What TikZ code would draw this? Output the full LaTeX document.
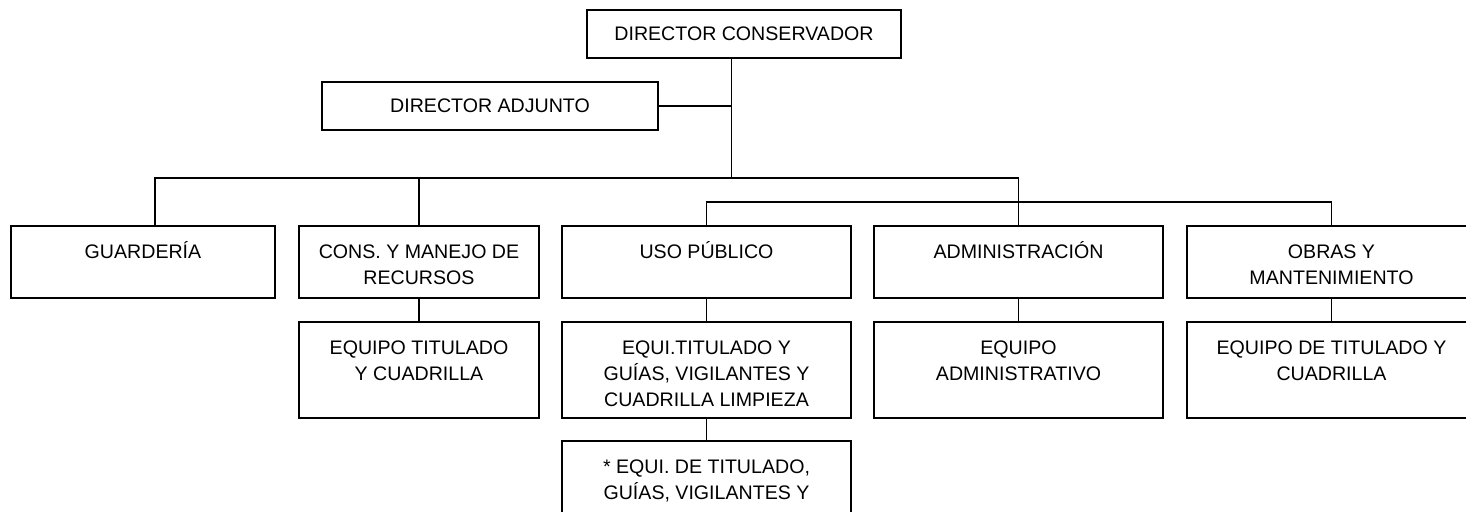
\documentclass[tikz,border=0pt]{standalone}
\usepackage{fontspec}
\setmainfont{Liberation Sans}
\tikzset{
  boxline/.style={draw, line width=0.9pt, inner sep=0pt, outer sep=0pt,
    font=\fontsize{9.8pt}{13pt}\selectfont},
  link/.style={line width=0.65pt},
}
% name, cx, cy, w(px), h(px), text
\newcommand\orgbox[6]{%
  \node[boxline, minimum width=#4*0.5pt, minimum height=#5*0.5pt] (#1) at (#2,#3)
   {\parbox[c][\dimexpr #5pt/2\relax][t]{\dimexpr #4pt/2\relax}{\centering\rule{0pt}{16.2pt}#6\par}};}
\begin{document}
\begin{tikzpicture}[x=0.5pt, y=-0.5pt]
\clip (0,0) rectangle (1466,511);
\fill[white] (0,0) rectangle (1466,511);

\node[boxline, minimum width=157pt, minimum height=24pt] (DC) at (744,34) {DIRECTOR CONSERVADOR};
\node[boxline, minimum width=168pt, minimum height=24pt] (DA) at (490,106) {DIRECTOR ADJUNTO};

\orgbox{GUARD}{143}{262}{264}{72}{GUARDERÍA}
\orgbox{CONS}{419}{262}{240}{72}{CONS. Y MANEJO DE\\RECURSOS}
\orgbox{USO}{706.5}{262}{289}{72}{USO PÚBLICO}
\orgbox{ADMIN}{1018.5}{262}{289}{72}{ADMINISTRACIÓN}
\orgbox{OBRAS}{1331.5}{262}{289}{72}{OBRAS Y\\MANTENIMIENTO}

\orgbox{CONS2}{419}{370}{240}{96}{EQUIPO TITULADO\\Y CUADRILLA}
\orgbox{USO2}{706.5}{370}{289}{96}{EQUI.TITULADO Y\\GUÍAS, VIGILANTES Y\\CUADRILLA LIMPIEZA}
\orgbox{ADMIN2}{1018.5}{370}{289}{96}{EQUIPO\\ADMINISTRATIVO}
\orgbox{OBRAS2}{1331.5}{370}{289}{96}{EQUIPO DE TITULADO Y\\CUADRILLA}

\orgbox{USO3}{706.5}{489}{289}{96}{* EQUI. DE TITULADO,\\GUÍAS, VIGILANTES Y}

\coordinate (tr) at (731.5,178);
\coordinate (gl) at (155,178);
\coordinate (l2) at (0,202);

\draw[link] (tr |- DC.south) -- (tr);
\draw[link] (DA.east) -- (DA.east -| tr);
\draw[link] (gl |- GUARD.north) -- (gl) -- (ADMIN.north |- gl) -- (ADMIN.north);
\draw[link] (CONS.north) -- (CONS.north |- gl);
\draw[link] (USO.north) -- (USO.north |- l2) -- (OBRAS.north |- l2) -- (OBRAS.north);

\draw[link] (CONS.south) -- (CONS2.north);
\draw[link] (USO.south) -- (USO2.north);
\draw[link] (ADMIN.south) -- (ADMIN2.north);
\draw[link] (OBRAS.south) -- (OBRAS2.north);
\draw[link] (USO2.south) -- (USO3.north);
\end{tikzpicture}
\end{document}
